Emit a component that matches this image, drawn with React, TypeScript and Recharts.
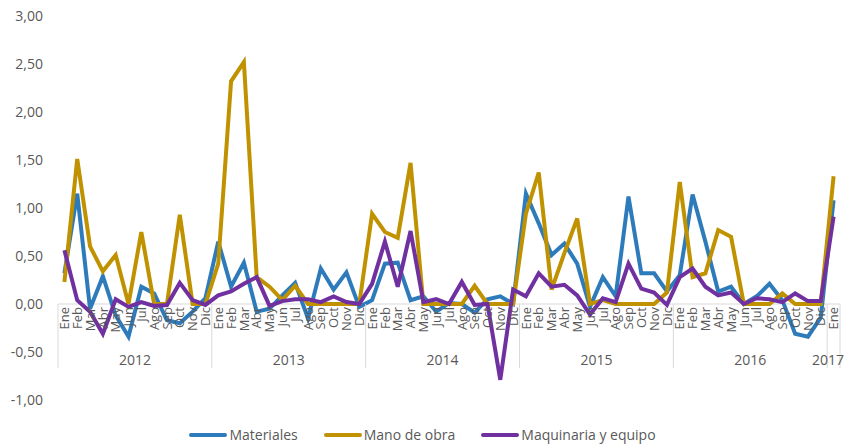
import { LineChart, Line, XAxis, YAxis, ReferenceLine } from 'recharts';

const MONTHS = ['Ene', 'Feb', 'Mar', 'Abr', 'May', 'Jun', 'Jul', 'Ago', 'Sep', 'Oct', 'Nov', 'Dic'];
const YEARS = ['2012', '2013', '2014', '2015', '2016', '2017'];

const materiales = [
  0.32, 1.15, -0.05, 0.29, -0.12, -0.34, 0.18, 0.11, -0.17, -0.2, -0.08, 0.06,
  0.65, 0.18, 0.43, -0.08, -0.05, 0.09, 0.22, -0.15, 0.37, 0.15, 0.33, -0.03,
  0.04, 0.42, 0.43, 0.04, 0.08, -0.08, 0.01, 0.0, -0.09, 0.05, 0.08, 0.0,
  1.15, 0.84, 0.51, 0.63, 0.42, -0.03, 0.28, 0.08, 1.12, 0.32, 0.32, 0.13,
  0.3, 1.14, 0.65, 0.13, 0.18, 0.0, 0.08, 0.21, 0.04, -0.31, -0.34, -0.14,
  1.08,
];

const manoDeObra = [
  0.23, 1.51, 0.6, 0.34, 0.51, 0.0, 0.75, 0.0, 0.0, 0.93, 0.0, 0.0,
  0.42, 2.32, 2.52, 0.28, 0.18, 0.04, 0.19, 0.0, 0.0, 0.0, 0.0, 0.0,
  0.94, 0.75, 0.69, 1.47, 0.0, 0.0, 0.0, 0.0, 0.19, 0.0, 0.0, 0.0,
  0.94, 1.37, 0.15, 0.53, 0.89, 0.0, 0.04, 0.0, 0.0, 0.0, 0.0, 0.12,
  1.27, 0.28, 0.32, 0.77, 0.7, 0.0, 0.0, 0.0, 0.11, 0.0, 0.0, 0.0,
  1.33,
];

const maquinaria = [
  0.56, 0.04, -0.08, -0.31, 0.05, -0.03, 0.02, -0.02, -0.01, 0.22, 0.04, -0.01,
  0.09, 0.13, 0.21, 0.28, -0.02, 0.03, 0.05, 0.05, 0.02, 0.08, 0.02, 0.0,
  0.21, 0.65, 0.18, 0.76, 0.02, 0.05, 0.0, 0.23, -0.01, 0.0, -0.79, 0.15,
  0.08, 0.32, 0.18, 0.2, 0.09, -0.11, 0.06, 0.02, 0.42, 0.16, 0.12, -0.01,
  0.28, 0.37, 0.18, 0.09, 0.12, 0.0, 0.06, 0.05, 0.02, 0.11, 0.03, 0.03,
  0.91,
];

const Y_TICKS = [-1, -0.5, 0, 0.5, 1, 1.5, 2, 2.5, 3];

const data = materiales.map((v, i) => ({
  key: `${MONTHS[i % 12]}-${YEARS[Math.floor(i / 12)]}`,
  mes: MONTHS[i % 12],
  anio: YEARS[Math.floor(i / 12)],
  materiales: v,
  manoDeObra: manoDeObra[i],
  maquinaria: maquinaria[i],
}));

// layout
const W = 845;
const H = 444;
const PLOT_TOP = 16;
const PLOT_BOTTOM = 400;
const PLOT_LEFT = 58;
const PLOT_RIGHT = 840;
const BAND = (PLOT_RIGHT - PLOT_LEFT) / data.length;
const ZERO_Y = PLOT_TOP + (PLOT_BOTTOM - PLOT_TOP) * 0.75;

const FONT = '"Open Sans", "Noto Sans", sans-serif';
const TEXT = '#595959';
const AXIS = '#d9d9d9';

const COLORS = {
  materiales: '#2e7bbb',
  manoDeObra: '#c09200',
  maquinaria: '#7030a0',
};

const MonthTick = (props: any) => {
  const { x, index } = props;
  const row = data[index];
  if (!row) return null;
  const isLast = index === data.length - 1;
  const monthsInYear = data.filter((d) => d.anio === row.anio).length;
  const posInYear = MONTHS.indexOf(row.mes);
  const showYear = posInYear === Math.floor((monthsInYear - 1) / 2);
  const yearX = monthsInYear > 1 && monthsInYear % 2 === 0 ? x + BAND / 2 : x;
  // the last (partial) year label sits at the right edge, like the original
  const lastYear = monthsInYear === 1;
  return (
    <g>
      <text
        transform={`translate(${x},${ZERO_Y + 3}) rotate(-90)`}
        dy="0.36em"
        textAnchor="end"
        fontSize={13}
        fontFamily={FONT}
        fill={TEXT}
      >
        {row.mes}
      </text>
      {row.mes === 'Ene' && (
        <line x1={x - BAND / 2} x2={x - BAND / 2} y1={ZERO_Y} y2={ZERO_Y + 64} stroke={AXIS} strokeWidth={1} />
      )}
      {isLast && (
        <line x1={x + BAND / 2} x2={x + BAND / 2} y1={ZERO_Y} y2={ZERO_Y + 64} stroke={AXIS} strokeWidth={1} />
      )}
      {showYear && (
        <text
          x={lastYear ? W - 1 : yearX}
          y={ZERO_Y + 61}
          textAnchor={lastYear ? 'end' : 'middle'}
          fontSize={14}
          fontFamily={FONT}
          fill={TEXT}
        >
          {row.anio}
        </text>
      )}
    </g>
  );
};

const legendItems = [
  { label: 'Materiales', color: COLORS.materiales },
  { label: 'Mano de obra', color: COLORS.manoDeObra },
  { label: 'Maquinaria y equipo', color: COLORS.maquinaria },
];

export default function App() {
  return (
    <div style={{ position: 'absolute', left: 0, top: 0, width: W, height: H, background: '#fff' }}>
      <LineChart width={W} height={H} data={data} margin={{ top: PLOT_TOP, right: W - PLOT_RIGHT, bottom: H - PLOT_BOTTOM - 30, left: 0 }}>
        <YAxis
          domain={[-1, 3]}
          ticks={Y_TICKS}
          width={PLOT_LEFT}
          axisLine={false}
          tickLine={false}
          tickSize={0}
          tickMargin={15}
          tickFormatter={(v: number) => v.toFixed(2).replace('.', ',')}
          tick={{ fill: TEXT, fontSize: 14, fontFamily: FONT }}
        />
        <XAxis
          dataKey="key"
          height={30}
          interval={0}
          axisLine={false}
          tickLine={false}
          padding={{ left: BAND / 2, right: BAND / 2 }}
          tick={<MonthTick />}
        />
        <ReferenceLine y={0} stroke={AXIS} strokeWidth={1} />
        <Line type="linear" dataKey="materiales" stroke={COLORS.materiales} strokeWidth={4} dot={false} isAnimationActive={false} />
        <Line type="linear" dataKey="manoDeObra" stroke={COLORS.manoDeObra} strokeWidth={4} dot={false} isAnimationActive={false} />
        <Line type="linear" dataKey="maquinaria" stroke={COLORS.maquinaria} strokeWidth={4} dot={false} isAnimationActive={false} />
      </LineChart>
      <div
        style={{
          position: 'absolute',
          left: 0,
          top: 425,
          width: W,
          display: 'flex',
          justifyContent: 'center',
          gap: 26,
          fontFamily: FONT,
          fontSize: 14,
          color: TEXT,
          lineHeight: '20px',
        }}
      >
        {legendItems.map((it) => (
          <div key={it.label} style={{ display: 'flex', alignItems: 'center' }}>
            <span style={{ display: 'inline-block', width: 38, height: 4, background: it.color, borderRadius: 2, marginRight: 2 }} />
            <span>{it.label}</span>
          </div>
        ))}
      </div>
    </div>
  );
}
